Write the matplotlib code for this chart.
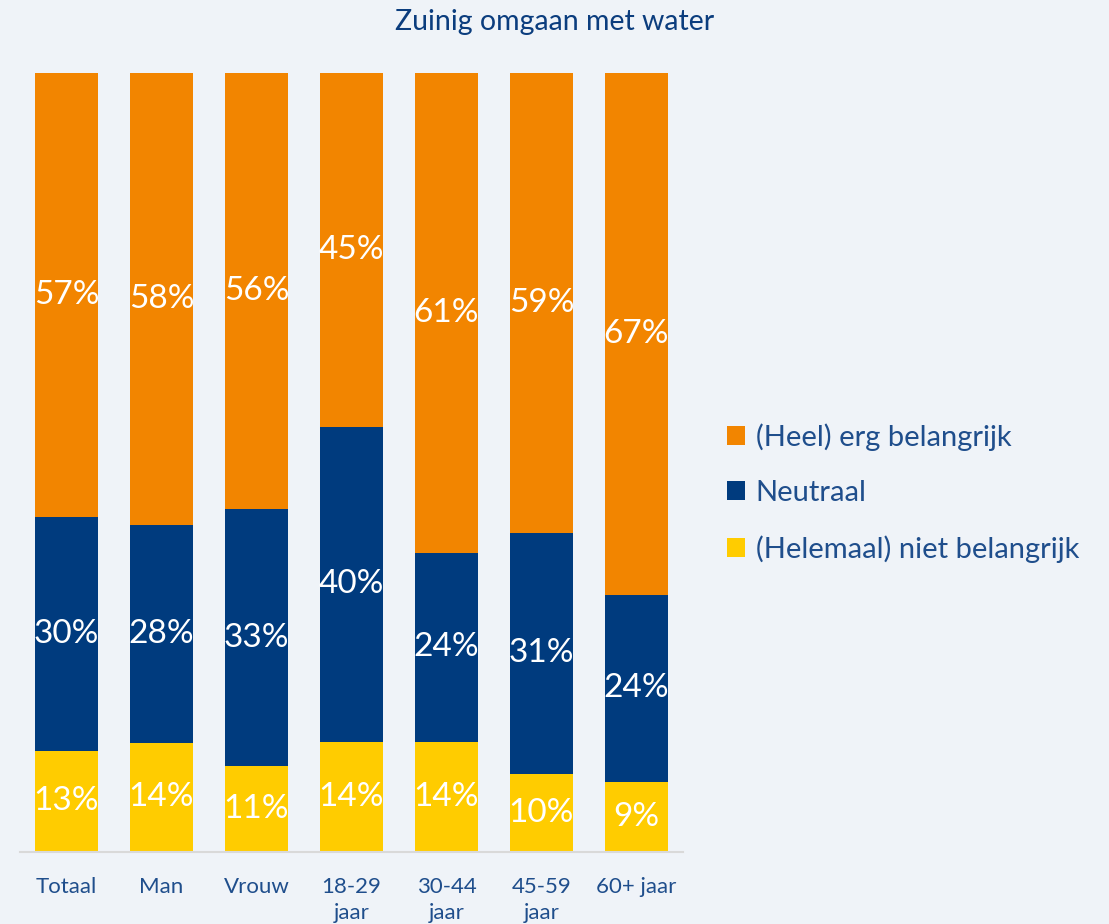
import matplotlib
matplotlib.use("Agg")
import matplotlib.pyplot as plt
import numpy as np

categories = ["Totaal", "Man", "Vrouw", "18-29\njaar", "30-44\njaar", "45-59\njaar", "60+ jaar"]
niet_belangrijk = [13, 14, 11, 14, 14, 10, 9]
neutraal = [30, 28, 33, 40, 24, 31, 24]
belangrijk = [57, 58, 56, 45, 61, 59, 67]
series_names = ["(Heel) erg belangrijk", "Neutraal", "(Helemaal) niet belangrijk"]

BG = "#EFF3F8"
ORANGE = "#F28500"
NAVY = "#003B7E"
YELLOW = "#FFCC00"
TEXT = "#1F4E8C"
TITLE = "#0B3D7E"
FONT = "Lato"

plt.rcParams['font.family'] = [FONT, 'DejaVu Sans']

fig = plt.figure(figsize=(11.09, 9.24), dpi=100, facecolor=BG)
ax = fig.add_axes([20/1109, 72/924, 663/1109, 779/924])
ax.set_facecolor(BG)

x = np.arange(len(categories))
nb = np.array(niet_belangrijk, float)
ne = np.array(neutraal, float)
be = np.array(belangrijk, float)
tot = nb + ne + be
nbp, nep, bep = nb / tot * 100, ne / tot * 100, be / tot * 100

w = 0.66
b1 = ax.bar(x, nbp, w, color=YELLOW, label=series_names[2])
b2 = ax.bar(x, nep, w, bottom=nbp, color=NAVY, label=series_names[1])
b3 = ax.bar(x, bep, w, bottom=nbp + nep, color=ORANGE, label=series_names[0])

for vals, bottoms, raw in [(nbp, np.zeros_like(nbp), nb), (nep, nbp, ne), (bep, nbp + nep, be)]:
    for xi, v, b, r in zip(x, vals, bottoms, raw):
        ax.text(xi, b + v / 2, f"{int(r)}%", ha="center", va="center",
                color="white", fontsize=24)

ax.set_xlim(-0.49, 6.49)
ax.set_ylim(0, 100)
ax.set_xticks(x)
ax.set_xticklabels(categories, color=TEXT, fontsize=16, linespacing=1.4)
ax.tick_params(axis="x", length=0, pad=18)
ax.set_yticks([])
for s in ["top", "left", "right"]:
    ax.spines[s].set_visible(False)
ax.spines["bottom"].set_color("#D9D9D9")
ax.spines["bottom"].set_linewidth(1.5)

fig.text(0.5, 1 - 22/924, "Zuinig omgaan met water", ha="center", va="center",
         color=TITLE, fontsize=20.5)

handles = [b3, b2, b1]
leg = fig.legend(handles, series_names, loc="center left",
                 bbox_to_anchor=(701/1109, 1 - 493/924), frameon=False,
                 fontsize=21, labelcolor=TEXT, handlelength=0.62, handleheight=0.62,
                 handletextpad=0.35, labelspacing=1.0)

fig.savefig("out.png", dpi=100, facecolor=BG)
